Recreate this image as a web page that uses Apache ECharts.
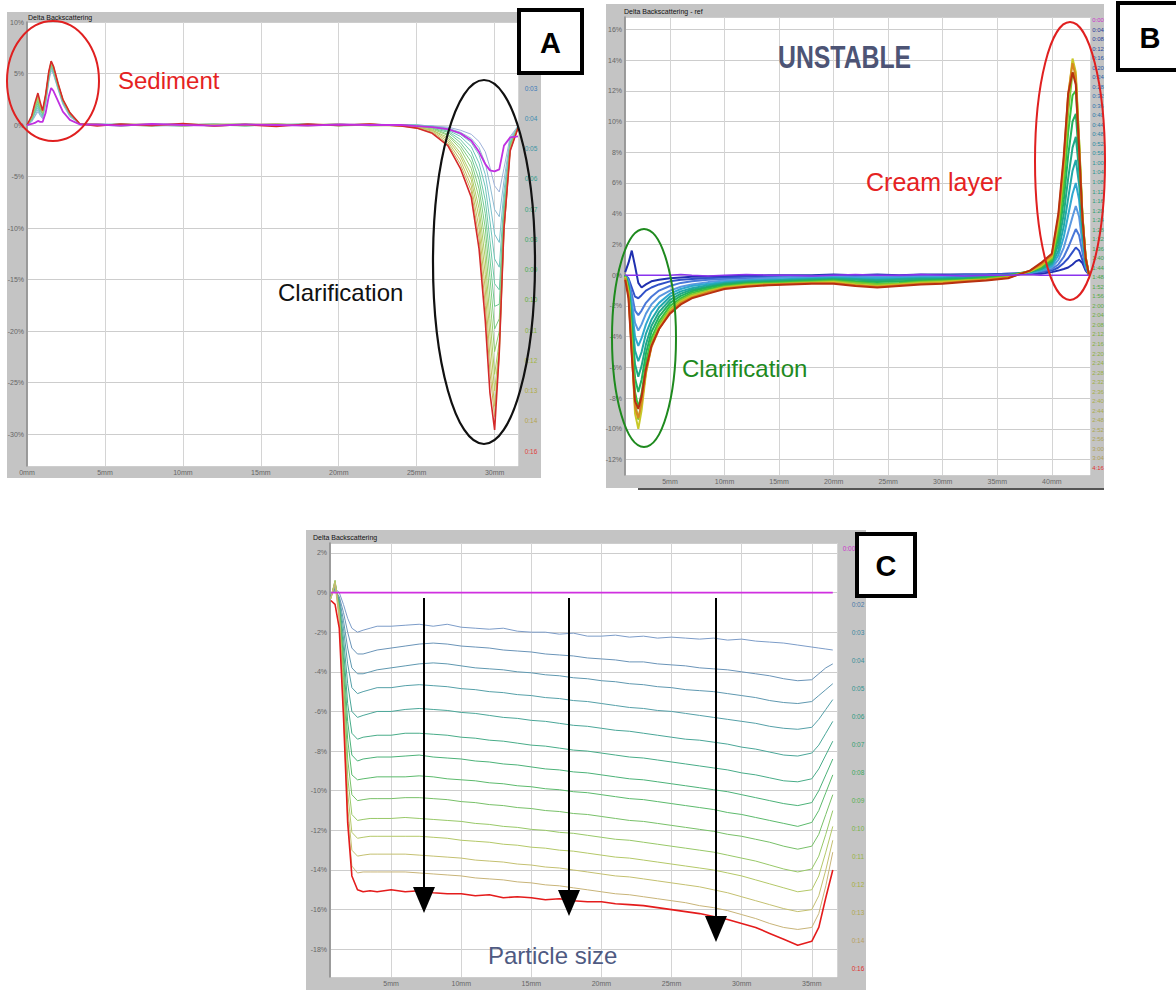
<!DOCTYPE html>
<html>
<head>
<meta charset="utf-8">
<title>Delta Backscattering</title>
<script src="https://cdn.jsdelivr.net/npm/echarts@6/dist/echarts.min.js"></script>
<style>
  html, body { margin: 0; padding: 0; background: #ffffff; }
  #wrap { position: relative; width: 1176px; height: 996px; overflow: hidden; }
  .frame { position: absolute; background: #c4c4c4; }
  #chart { position: absolute; left: 0; top: 0; width: 1176px; height: 996px; }
</style>
</head>
<body>
<div id="wrap">
  <div class="frame" style="left:7px;top:12px;width:534px;height:466px"></div>
  <div class="frame" style="left:606px;top:4px;width:498px;height:484px"></div>
  <div class="frame" style="left:306px;top:530px;width:560px;height:460px"></div>
  <div style="position:absolute;left:638px;top:488px;width:466px;height:2px;background:#555"></div>
  <div id="chart"></div>
</div>
<script>
// ---------- Panel A : sediment + clarification (height in mm, delta BS in %) ----------
const A_x = [0,0.3,0.5,0.7,0.85,1.0,1.2,1.4,1.55,1.7,2.0,2.3,2.75,3.4,4.5,6,8,10,12,14,16,18,20,22,24,25,26,27,27.8,28.5,29.0,29.4,29.7,30.0,30.3,30.6,31.0,31.5];
const A_t00 = [0,0.1,0.2,0.4,0.3,0.3,1.2,2.8,3.6,3.3,2.3,1.3,0.5,0.05, 0.05,-0.05,0.1,0,-0.05,0.05,0,-0.05,0.05,0, 0,-0.1,-0.2,-0.4,-0.8,-1.5,-2.6,-3.8,-4.4,-4.5,-4.3,-2.0,-1.2,-1.1];
const A_t03 = [0,0.3,0.8,1.3,0.9,0.6,2.0,4.2,5.3,4.9,3.4,2.0,0.8,0.1, 0.1,0,-0.1,0.05,0.1,-0.05,0,0.1,-0.05,0.05, 0,0,-0.1,-0.2,-0.5,-0.9,-1.6,-2.6,-4.1,-5.9,-6.5,-4.2,-1.1,-0.1];
const A_t04 = [0,0.4,0.9,1.5,1.0,0.7,2.2,4.4,5.5,5.0,3.5,2.1,0.9,0.1, 0.05,0.1,-0.05,-0.1,0.05,0,0.1,-0.05,0,0.1, 0,0,-0.1,-0.3,-0.7,-1.3,-2.2,-3.7,-5.8,-8.2,-8.9,-5.4,-1.3,-0.1];
const A_t05 = [0,0.4,1.1,1.7,1.1,0.8,2.3,4.5,5.6,5.1,3.6,2.2,0.9,0.1, 0,-0.1,0.05,0.1,-0.05,0.1,-0.05,0,0.1,-0.05, 0,0,-0.1,-0.4,-0.9,-1.7,-2.9,-4.8,-7.5,-10.6,-11.4,-6.4,-1.5,-0.2];
const A_t06 = [0,0.5,1.2,1.9,1.2,0.9,2.4,4.6,5.7,5.2,3.6,2.2,1.0,0.1, 0.1,0.05,-0.1,0,0.1,-0.1,0.05,0.1,-0.05,0, 0,0,-0.2,-0.5,-1.1,-2.1,-3.7,-6.0,-9.3,-13.0,-13.8,-7.3,-1.7,-0.2];
const A_t07 = [0,0.5,1.3,2.1,1.4,1.0,2.5,4.7,5.8,5.3,3.7,2.3,1.0,0.1, -0.05,0.1,0,-0.1,0.05,0.1,-0.1,0.05,0,0.05, 0,-0.1,-0.2,-0.6,-1.4,-2.6,-4.5,-7.3,-11.2,-15.4,-16.0,-8.0,-1.8,-0.2];
const A_t08 = [0,0.6,1.5,2.3,1.5,1.1,2.6,4.8,5.9,5.4,3.7,2.3,1.0,0.1, 0.05,-0.05,0.1,0.05,-0.1,0,0.1,-0.05,0.05,-0.05, 0,-0.1,-0.3,-0.7,-1.7,-3.1,-5.3,-8.6,-13.0,-17.6,-17.4,-8.5,-1.9,-0.2];
const A_t09 = [0,0.6,1.6,2.4,1.6,1.1,2.7,4.9,5.9,5.4,3.8,2.4,1.1,0.1, 0,0.1,-0.05,0.1,0,-0.1,0.05,0.1,-0.1,0, 0,-0.1,-0.3,-0.9,-2.0,-3.6,-6.2,-10.0,-14.8,-19.8,-18.8,-9.0,-2.0,-0.2];
const A_t10 = [0,0.7,1.7,2.6,1.7,1.2,2.8,5.0,6.0,5.5,3.8,2.4,1.1,0.1, 0.1,-0.1,0.05,0,0.1,0.05,-0.05,0,0.1,-0.1, 0,-0.1,-0.4,-1.0,-2.3,-4.2,-7.1,-11.5,-16.8,-22.0,-20.0,-9.3,-2.1,-0.2];
const A_t11 = [0,0.7,1.8,2.7,1.8,1.2,2.8,5.0,6.0,5.5,3.9,2.4,1.1,0.1, -0.05,0.05,0.1,-0.05,0,0.1,0.05,-0.1,0.05,0.1, -0.1,-0.2,-0.5,-1.2,-2.7,-4.8,-8.1,-13.0,-18.8,-24.2,-21.0,-9.7,-2.2,-0.3];
const A_t12 = [0,0.8,1.9,2.8,1.9,1.3,2.9,5.1,6.1,5.6,3.9,2.5,1.1,0.1, 0.05,0,-0.1,0.1,0.05,-0.05,0.1,0,-0.05,0.05, -0.1,-0.2,-0.5,-1.4,-3.0,-5.3,-9.0,-14.5,-20.5,-25.8,-21.5,-10.0,-2.3,-0.3];
const A_t13 = [0,0.8,2.0,2.9,2.0,1.3,2.9,5.1,6.1,5.6,3.9,2.5,1.2,0.1, 0,0.05,0.1,-0.1,0.05,0.1,-0.05,0.05,0.1,-0.05, -0.1,-0.2,-0.6,-1.6,-3.4,-5.9,-10.0,-16.0,-22.5,-27.3,-22.0,-10.3,-2.4,-0.3];
const A_t14 = [0,0.8,2.0,3.0,2.1,1.4,3.0,5.2,6.2,5.7,4.0,2.5,1.2,0.1, 0.1,-0.05,0,0.05,-0.1,0.05,0.1,-0.05,0,0.1, -0.1,-0.3,-0.7,-1.8,-3.8,-6.4,-11.0,-17.5,-24.0,-28.3,-22.5,-10.5,-2.5,-0.3];
const A_t16 = [0,0.9,2.1,3.1,2.2,1.4,3.0,5.2,6.2,5.7,4.0,2.5,1.2,0.1, -0.1,0.1,-0.05,0.15,-0.1,0.05,-0.15,0.1,-0.05,0.1, -0.1,-0.3,-0.8,-2.0,-4.2,-7.0,-12.0,-19.0,-26.0,-29.6,-22.0,-10.0,-2.5,-0.3];
const A_times = ['0:03','0:04','0:05','0:06','0:07','0:08','0:09','0:10','0:11','0:12','0:13','0:14','0:16'];

// ---------- Panel B : unstable sample, reference scan ----------
const B_x = [0.9,1.2,1.5,1.8,2.1,2.4,2.8,3.3,4, 5,6,7,8.5,10,12,14,16,18,20,22,24,26,28,30,32,34,36,38, 39,40,40.6,41.1,41.5,41.9,42.2,42.5,42.8,43.1,43.4];
const B_t00 = [0,0,0,0,0,0,0,0,0, 0,0.05,0,-0.05,0,0.05,0,0,-0.05,0,0.05,0,0,0.05,0,-0.05,0,0,0.05, 0,0,0,0,0,0,0,0,0,0,0];
const B_t01 = [0.2,0.8,1.6,0.6,-0.5,-0.8,-0.6,-0.4,-0.3, -0.2,-0.15,-0.1,-0.1,-0.05,-0.05,0,0,0,0.05,0,0.05,0,0.05,0.05,0.05,0.05,0.1,0.1, 0.1,0.2,0.3,0.4,0.5,0.7,0.9,1.0,0.8,0.3,0.05];
const B_t02 = [0,-0.2,-0.8,-1.4,-1.5,-1.3,-1.0,-0.8,-0.6, -0.4,-0.3,-0.25,-0.2,-0.15,-0.1,-0.1,-0.05,-0.05,0,-0.05,0,-0.05,0,0,0.05,0.05,0.1,0.15, 0.2,0.3,0.5,0.8,1.1,1.5,1.8,1.6,1.0,0.4,0.05];
const B_t03 = [0,-0.3,-1.2,-2.3,-2.6,-2.3,-1.8,-1.4,-1.0, -0.7,-0.5,-0.4,-0.3,-0.25,-0.2,-0.15,-0.1,-0.1,-0.05,-0.1,-0.05,-0.1,-0.05,-0.05,0,0,0.05,0.15, 0.25,0.4,0.7,1.2,1.8,2.5,3.0,2.6,1.5,0.5,0.05];
const B_t04 = [0,-0.4,-1.7,-3.1,-3.6,-3.2,-2.5,-1.9,-1.4, -1.0,-0.75,-0.6,-0.45,-0.35,-0.3,-0.2,-0.15,-0.15,-0.1,-0.15,-0.1,-0.15,-0.1,-0.1,-0.05,-0.05,0,0.15, 0.3,0.5,1.0,1.8,2.8,3.8,4.5,3.8,2.1,0.6,0.05];
const B_t05 = [0,-0.5,-2.1,-4.0,-4.6,-4.1,-3.2,-2.4,-1.8, -1.2,-0.9,-0.7,-0.55,-0.45,-0.35,-0.3,-0.25,-0.2,-0.15,-0.2,-0.2,-0.2,-0.15,-0.15,-0.1,-0.1,0,0.15, 0.3,0.6,1.3,2.5,3.9,5.3,6.0,4.9,2.6,0.7,0.05];
const B_t06 = [0,-0.6,-2.6,-4.9,-5.6,-5.0,-3.8,-2.9,-2.1, -1.4,-1.05,-0.85,-0.65,-0.5,-0.4,-0.35,-0.3,-0.25,-0.2,-0.25,-0.3,-0.25,-0.2,-0.2,-0.15,-0.1,0,0.2, 0.4,0.7,1.6,3.2,5.0,6.8,7.5,5.9,3.0,0.8,0.05];
const B_t07 = [0,-0.7,-3.1,-5.8,-6.6,-5.9,-4.5,-3.3,-2.4, -1.6,-1.2,-0.95,-0.75,-0.55,-0.45,-0.4,-0.35,-0.3,-0.25,-0.3,-0.35,-0.3,-0.25,-0.25,-0.2,-0.1,0,0.2, 0.4,0.8,2.0,4.0,6.3,8.3,9.0,6.8,3.3,0.9,0.05];
const B_t08 = [0,-0.8,-3.6,-6.7,-7.6,-6.8,-5.1,-3.7,-2.7, -1.8,-1.35,-1.05,-0.8,-0.6,-0.5,-0.45,-0.4,-0.35,-0.3,-0.4,-0.45,-0.4,-0.35,-0.3,-0.25,-0.15,0,0.25, 0.5,0.9,2.4,4.9,7.8,10.0,10.5,7.6,3.6,1.0,0.05];
const B_t09 = [0,-0.9,-4.0,-7.6,-8.6,-7.7,-5.7,-4.1,-3.0, -2.0,-1.5,-1.15,-0.9,-0.7,-0.55,-0.5,-0.45,-0.4,-0.35,-0.45,-0.55,-0.5,-0.4,-0.35,-0.3,-0.2,-0.05,0.25, 0.5,1.0,2.8,5.8,9.3,11.7,12.0,8.4,3.9,1.1,0.05];
const B_t10 = [-0.1,-1.0,-4.4,-8.3,-9.4,-8.4,-6.2,-4.4,-3.2, -2.2,-1.6,-1.25,-1.0,-0.75,-0.6,-0.55,-0.5,-0.45,-0.4,-0.5,-0.6,-0.55,-0.45,-0.4,-0.35,-0.25,-0.1,0.25, 0.6,1.1,3.2,6.6,10.6,13.2,12.8,8.8,4.0,1.2,0.05];
const B_t11 = [-0.1,-1.1,-4.8,-9.0,-10.0,-8.8,-6.4,-4.6,-3.4, -2.3,-1.7,-1.35,-1.05,-0.8,-0.65,-0.6,-0.55,-0.5,-0.45,-0.6,-0.7,-0.6,-0.5,-0.45,-0.35,-0.3,-0.15,0.25, 0.6,1.2,3.5,7.2,11.5,14.1,13.2,8.8,4.0,1.2,0.05];
const B_t12 = [-0.2,-1.3,-5.0,-8.6,-9.3,-8.3,-6.3,-4.7,-3.5, -2.4,-1.8,-1.45,-1.1,-0.85,-0.7,-0.6,-0.55,-0.5,-0.5,-0.65,-0.75,-0.65,-0.55,-0.5,-0.4,-0.3,-0.15,0.3, 0.7,1.3,3.8,7.5,11.8,13.8,12.9,8.5,3.9,1.2,0.05];
const B_t13 = [-0.3,-1.5,-5.2,-8.2,-8.7,-7.9,-6.1,-4.6,-3.5, -2.5,-1.9,-1.5,-1.2,-0.9,-0.75,-0.65,-0.6,-0.55,-0.55,-0.7,-0.8,-0.7,-0.6,-0.55,-0.45,-0.35,-0.2,0.3, 0.8,1.4,4.0,7.8,11.8,13.2,12.4,8.2,3.8,1.1,0.05];
const B_times = ['0:00','0:04','0:08','0:12','0:16','0:20','0:24','0:28','0:32','0:36','0:40','0:44','0:48','0:52','0:56','1:00',
  '1:04','1:08','1:12','1:16','1:20','1:24','1:28','1:32','1:36','1:40','1:44','1:48','1:52','1:56','2:00','2:04',
  '2:08','2:12','2:16','2:20','2:24','2:28','2:32','2:36','2:40','2:44','2:48','2:52','2:56','3:00','3:04','4:16'];

// ---------- Panel C : particle size change ----------
const C_x = [0.7,1.0,1.3,1.6,1.9,2.2,2.6,3.0,3.5,4, 5,6,7,8,9,10,11,12,13,14,15,16,17,18,19,20,21,22,23,24,25,26,27,28,29,30,31,32,33,34, 35,35.5,36,36.5];
const C_t00 = [0,0,0,0,0,0,0,0,0,0, 0,0,0,0,0,0,0,0,0,0,0,0,0,0,0,0,0,0,0,0,0,0,0,0,0,0,0,0,0,0, 0,0,0,0];
const C_t02 = [-0.1,0.2,0.0,-0.6,-1.3,-1.8,-2.0,-1.9,-1.8,-1.7, -1.7,-1.65,-1.6,-1.7,-1.6,-1.75,-1.8,-1.85,-1.8,-1.95,-2.0,-2.0,-2.1,-2.05,-2.2,-2.2,-2.15,-2.25,-2.2,-2.3,-2.25,-2.3,-2.35,-2.3,-2.4,-2.35,-2.45,-2.5,-2.55,-2.65, -2.75,-2.8,-2.85,-2.9];
const C_t03 = [-0.1,0.1,-0.2,-1.0,-2.0,-2.8,-3.1,-3.1,-3.0,-2.9, -2.8,-2.7,-2.6,-2.55,-2.6,-2.7,-2.75,-2.8,-2.9,-2.95,-3.0,-3.1,-3.15,-3.2,-3.3,-3.35,-3.4,-3.5,-3.5,-3.6,-3.65,-3.7,-3.8,-3.85,-3.9,-4.0,-4.1,-4.2,-4.35,-4.45, -4.4,-4.1,-3.8,-3.6];
const C_t04 = [-0.1,0.1,-0.3,-1.4,-2.8,-3.8,-4.1,-4.1,-4.0,-3.9, -3.8,-3.7,-3.6,-3.55,-3.6,-3.7,-3.8,-3.85,-3.9,-4.0,-4.05,-4.15,-4.2,-4.3,-4.35,-4.45,-4.5,-4.6,-4.65,-4.75,-4.8,-4.9,-4.95,-5.0,-5.1,-5.2,-5.3,-5.45,-5.55,-5.6, -5.5,-5.2,-4.9,-4.6];
const C_t05 = [-0.2,0.2,-0.4,-1.8,-3.6,-4.8,-5.1,-5.0,-4.9,-4.8, -4.8,-4.7,-4.65,-4.7,-4.75,-4.85,-4.9,-5.0,-5.05,-5.15,-5.2,-5.3,-5.35,-5.45,-5.5,-5.6,-5.7,-5.8,-5.85,-5.95,-6.0,-6.1,-6.2,-6.3,-6.4,-6.5,-6.6,-6.75,-6.85,-6.9, -6.8,-6.4,-5.9,-5.4];
const C_t06 = [-0.2,0.3,-0.5,-2.3,-4.6,-6.0,-6.3,-6.2,-6.1,-6.0, -6.0,-5.9,-5.85,-5.9,-5.95,-6.05,-6.1,-6.2,-6.3,-6.35,-6.45,-6.5,-6.6,-6.7,-6.75,-6.85,-6.95,-7.0,-7.1,-7.2,-7.3,-7.4,-7.45,-7.55,-7.65,-7.8,-7.9,-8.05,-8.2,-8.25, -8.1,-7.7,-7.1,-6.5];
const C_t07 = [-0.2,0.4,-0.6,-2.8,-5.6,-7.1,-7.4,-7.3,-7.25,-7.2, -7.2,-7.1,-7.1,-7.15,-7.2,-7.3,-7.35,-7.45,-7.5,-7.6,-7.7,-7.75,-7.85,-7.95,-8.0,-8.1,-8.2,-8.3,-8.35,-8.45,-8.55,-8.65,-8.75,-8.85,-8.95,-9.1,-9.2,-9.35,-9.5,-9.55, -9.4,-8.9,-8.2,-7.5];
const C_t08 = [-0.2,0.5,-0.7,-3.3,-6.5,-8.2,-8.5,-8.4,-8.35,-8.3, -8.3,-8.25,-8.2,-8.3,-8.35,-8.4,-8.5,-8.55,-8.65,-8.7,-8.8,-8.9,-8.95,-9.05,-9.1,-9.2,-9.3,-9.4,-9.45,-9.55,-9.65,-9.75,-9.85,-9.95,-10.05,-10.2,-10.35,-10.5,-10.65,-10.75, -10.6,-10.0,-9.2,-8.4];
const C_t09 = [-0.3,0.5,-0.8,-3.8,-7.4,-9.2,-9.45,-9.4,-9.35,-9.3, -9.3,-9.3,-9.25,-9.3,-9.4,-9.45,-9.5,-9.6,-9.65,-9.75,-9.8,-9.9,-9.95,-10.05,-10.1,-10.2,-10.3,-10.4,-10.45,-10.55,-10.65,-10.75,-10.85,-10.95,-11.1,-11.2,-11.35,-11.5,-11.65,-11.8, -11.6,-11.0,-10.1,-9.2];
const C_t10 = [-0.3,0.6,-0.9,-4.3,-8.4,-10.2,-10.5,-10.45,-10.4,-10.4, -10.4,-10.35,-10.35,-10.4,-10.45,-10.55,-10.6,-10.7,-10.75,-10.85,-10.9,-11.0,-11.05,-11.15,-11.2,-11.3,-11.4,-11.5,-11.55,-11.65,-11.75,-11.85,-11.95,-12.05,-12.2,-12.3,-12.45,-12.6,-12.8,-12.95, -12.8,-12.2,-11.2,-10.2];
const C_t11 = [-0.3,0.6,-1.0,-4.8,-9.3,-11.2,-11.5,-11.45,-11.4,-11.4, -11.4,-11.35,-11.4,-11.45,-11.5,-11.55,-11.65,-11.7,-11.8,-11.85,-11.95,-12.0,-12.1,-12.15,-12.25,-12.35,-12.45,-12.5,-12.6,-12.7,-12.8,-12.9,-13.0,-13.1,-13.25,-13.4,-13.55,-13.75,-13.95,-14.1, -13.95,-13.3,-12.2,-11.0];
const C_t12 = [-0.3,0.6,-1.1,-5.2,-10.1,-12.1,-12.4,-12.35,-12.3,-12.3, -12.3,-12.3,-12.3,-12.35,-12.4,-12.5,-12.55,-12.6,-12.7,-12.75,-12.85,-12.9,-13.0,-13.05,-13.15,-13.25,-13.35,-13.4,-13.5,-13.6,-13.7,-13.8,-13.9,-14.0,-14.15,-14.3,-14.5,-14.7,-14.9,-15.1, -15.0,-14.3,-13.1,-11.8];
const C_t13 = [-0.3,0.5,-1.2,-5.6,-10.8,-13.0,-13.3,-13.25,-13.2,-13.2, -13.2,-13.2,-13.25,-13.3,-13.35,-13.4,-13.5,-13.55,-13.6,-13.7,-13.75,-13.85,-13.9,-14.0,-14.1,-14.2,-14.3,-14.35,-14.45,-14.55,-14.65,-14.75,-14.85,-15.0,-15.15,-15.35,-15.55,-15.75,-15.95,-16.1, -16.0,-15.3,-14.0,-12.5];
const C_t14 = [-0.3,0.4,-1.4,-6.0,-11.4,-13.8,-14.15,-14.1,-14.1,-14.1, -14.1,-14.1,-14.15,-14.2,-14.25,-14.3,-14.4,-14.45,-14.5,-14.6,-14.65,-14.75,-14.8,-14.9,-15.0,-15.1,-15.2,-15.25,-15.35,-15.45,-15.55,-15.65,-15.8,-15.9,-16.05,-16.25,-16.45,-16.7,-16.9,-17.0, -16.9,-16.2,-14.8,-13.1];
const C_t16 = [-0.4,-0.6,-1.8,-6.2,-11.6,-14.3,-15.0,-15.1,-15.05,-15.1, -15.0,-15.1,-15.05,-15.15,-15.2,-15.2,-15.3,-15.25,-15.4,-15.35,-15.4,-15.5,-15.45,-15.55,-15.6,-15.6,-15.7,-15.75,-15.8,-15.9,-16.0,-16.1,-16.2,-16.35,-16.5,-16.7,-16.9,-17.2,-17.5,-17.8, -17.6,-16.9,-15.4,-14.0];
const C_times = ['0:02','0:03','0:04','0:05','0:06','0:07','0:08','0:09','0:10','0:11','0:12','0:13','0:14','0:16'];

// ---------- styling ----------
const FONT = '"Liberation Sans", Arial, sans-serif';
const A_curves = [A_t03, A_t04, A_t05, A_t06, A_t07, A_t08, A_t09, A_t10, A_t11, A_t12, A_t13, A_t14, A_t16];
const A_lineColors = ['#9fb2da','#8cbad2','#78c0ca','#6ec4b8','#6cc8a6','#70c890','#7ccc7e','#92cc6e','#aacc66','#bac860','#c2c05e','#c8b058','#d42a2a'];
const A_textColors = ['#3f7cb8','#3d8cb0','#3a96a4','#35a090','#34a47c','#3aa864','#48ac50','#62b040','#86b43c','#a2b43c','#b0ac44','#b4a450','#e04040'];

const B_curves = [B_t01, B_t02, B_t03, B_t04, B_t05, B_t06, B_t07, B_t08, B_t09, B_t10, B_t11, B_t12, B_t13];
const B_lineColors = ['#2030b0','#3050c8','#4a78d8','#5a98e0','#30a8d0','#20a8a8','#20a888','#20b060','#38c040','#80c830','#c8c828','#d88820','#b83010'];

const C_curves = [C_t02, C_t03, C_t04, C_t05, C_t06, C_t07, C_t08, C_t09, C_t10, C_t11, C_t12, C_t13, C_t14, C_t16];
const C_lineColors = ['#7c9cc8','#6a94b8','#5f98b0','#55a0a8','#4aa698','#48ac88','#4cb278','#5cba6c','#78c068','#98c868','#b4c868','#c4c070','#c8b478','#e41c1c'];
const C_textColors = ['#4a78a8','#3f88a0','#3a8e98','#339490','#2e9a80','#34a070','#3ca860','#56b050','#78b448','#98b440','#a8b040','#b0a850','#b8a060','#e03030'];

function pts(xs, ys) { return xs.map((x, i) => [x, ys[i]]); }

function hexToRgb(h) { return [parseInt(h.slice(1,3),16), parseInt(h.slice(3,5),16), parseInt(h.slice(5,7),16)]; }
function paletteAt(stops, t) {
  const p = t * (stops.length - 1), i = Math.min(Math.floor(p), stops.length - 2), f = p - i;
  const a = hexToRgb(stops[i]), b = hexToRgb(stops[i + 1]);
  return 'rgb(' + a.map((v, k) => Math.round(v + (b[k] - v) * f)).join(',') + ')';
}
const B_labelStops = ['#2a3a9a','#2a6ab0','#2a90a0','#30a070','#40a848','#80b040','#a8b048','#b0a058'];

function xAxisDef(gi, min, max, split, showMin) {
  return {
    type: 'value', gridIndex: gi, min: min, max: max, splitNumber: split,
    axisLine: { show: false }, axisTick: { show: false },
    axisLabel: { formatter: '{value}mm', fontSize: 7, color: '#666', margin: 3, fontFamily: FONT,
                 showMinLabel: showMin, showMaxLabel: false },
    splitLine: { show: true, lineStyle: { color: '#d4d4d4', width: 1 } }
  };
}
function yAxisDef(gi, min, max, split, showMax) {
  return {
    type: 'value', gridIndex: gi, min: min, max: max, splitNumber: split,
    axisLine: { show: true, onZero: false, lineStyle: { color: '#8a8a8a', width: 1.5 } },
    axisTick: { show: false },
    axisLabel: { formatter: '{value}%', fontSize: 7, color: '#666', margin: 3, fontFamily: FONT,
                 showMinLabel: false, showMaxLabel: showMax },
    splitLine: { show: true, lineStyle: { color: '#cdcdcd', width: 1 } }
  };
}
function lineSeries(axis, xs, ys, color, width) {
  return { type: 'line', xAxisIndex: axis, yAxisIndex: axis, data: pts(xs, ys), symbol: 'none',
           silent: true, animation: false, lineStyle: { color: color, width: width } };
}

const series = [];
// panel A
A_curves.forEach((ys, i) => series.push(lineSeries(0, A_x, ys, A_lineColors[i], i === A_curves.length - 1 ? 1.6 : 1)));
series.push(lineSeries(0, A_x, A_t00, '#c030e0', 1.8));
// panel B
B_curves.forEach((ys, i) => series.push(lineSeries(1, B_x, ys, B_lineColors[i], 2)));
series.push(lineSeries(1, B_x, B_t00, '#8a33ee', 1.6));
// panel C
C_curves.forEach((ys, i) => series.push(lineSeries(2, C_x, ys, C_lineColors[i], i === C_curves.length - 1 ? 1.6 : 1)));
series.push(lineSeries(2, C_x, C_t00, '#d030e0', 1.8));

// ---------- annotations, legends, titles ----------
const G = [];
function txt(x, y, s, color, font, align, extra) {
  G.push(Object.assign({ type: 'text', x: x, y: y, z: 100,
    style: { text: s, fill: color, font: font, textAlign: align || 'left', textVerticalAlign: 'middle' } }, extra || {}));
}
function ellipse(cx, cy, rx, ry, color, w) {
  G.push({ type: 'ellipse', z: 100, shape: { cx: cx, cy: cy, rx: rx, ry: ry },
           style: { fill: 'transparent', stroke: color, lineWidth: w } });
}
function box(x, y, w, h, letter) {
  G.push({ type: 'rect', z: 110, shape: { x: x, y: y, width: w, height: h },
           style: { fill: '#ffffff', stroke: '#000000', lineWidth: 4 } });
  G.push({ type: 'text', z: 111, x: x + w / 2, y: y + h / 2 + 1,
           style: { text: letter, fill: '#000', font: 'bold 29px ' + FONT, textAlign: 'center', textVerticalAlign: 'middle' } });
}
function arrow(x, y0, y1) {
  G.push({ type: 'line', z: 100, shape: { x1: x, y1: y0, x2: x, y2: y1 - 20 }, style: { stroke: '#000', lineWidth: 2 } });
  G.push({ type: 'polygon', z: 100, shape: { points: [[x - 11, y1 - 26], [x + 11, y1 - 26], [x, y1]] }, style: { fill: '#000' } });
}

// panel titles
txt(28, 17, 'Delta Backscattering', '#111', '7px ' + FONT);
txt(624, 11, 'Delta Backscattering - ref', '#111', '7px ' + FONT);
txt(313, 537, 'Delta Backscattering', '#111', '7px ' + FONT);

// time legends
A_times.forEach((t, i) => txt(531, 88 + i * 30.25, t, A_textColors[i], '6.5px ' + FONT, 'center'));
B_times.forEach((t, i) => {
  const c = i === 0 ? '#cc33cc' : (i === B_times.length - 1 ? '#e03030' : paletteAt(B_labelStops, (i - 1) / (B_times.length - 3)));
  txt(1098, 20 + i * 9.53, t, c, '6px ' + FONT, 'center');
});
txt(849, 548, '0:00', '#cc33cc', '6.5px ' + FONT, 'center');
C_times.forEach((t, i) => txt(858, 604 + i * 28, t, C_textColors[i], '6.5px ' + FONT, 'center'));

// panel A notes
ellipse(53, 81, 46, 60, '#e02020', 2);
txt(118, 80, 'Sediment', '#e52222', '24px ' + FONT);
ellipse(484, 262, 51, 182, '#111', 2.2);
txt(278, 292, 'Clarification', '#111', '24px ' + FONT);
// panel B notes
txt(778, 58, 'UNSTABLE', '#4d5475', 'bold 31px ' + FONT, 'left', { scaleX: 0.8, originX: 0, originY: 0 });
ellipse(1070, 161, 35, 139, '#e02020', 2);
txt(866, 182, 'Cream layer', '#e52222', '25px ' + FONT);
ellipse(644, 338, 32, 109, '#1e8a1e', 2);
txt(682, 368, 'Clarification', '#1e8a1e', '24px ' + FONT);
// panel C notes
arrow(424, 598, 913);
arrow(569, 598, 916);
arrow(716, 598, 942);
txt(488, 955, 'Particle size', '#4f5a82', '24px ' + FONT);

box(519, 10, 63, 63, 'A');
box(1118, 3, 64, 67, 'B');
box(857, 534, 58, 62, 'C');

const option = {
  animation: false,
  backgroundColor: 'transparent',
  textStyle: { fontFamily: FONT },
  grid: [
    { left: 27, top: 22, width: 491, height: 444, show: true, backgroundColor: '#ffffff', borderWidth: 0 },
    { left: 625, top: 17, width: 465, height: 458, show: true, backgroundColor: '#ffffff', borderWidth: 0 },
    { left: 330, top: 543, width: 507, height: 434, show: true, backgroundColor: '#ffffff', borderWidth: 0 }
  ],
  xAxis: [
    xAxisDef(0, 0, 31.5, 6, true),
    xAxisDef(1, 0.88, 43.5, 9, false),
    xAxisDef(2, 0.64, 36.8, 7, false)
  ],
  yAxis: [
    yAxisDef(0, -33.1, 10, 9, true),
    yAxisDef(1, -13, 16.8, 15, false),
    yAxisDef(2, -19.4, 2.5, 11, false)
  ],
  series: series,
  graphic: { elements: G }
};

const chart = echarts.init(document.getElementById('chart'), null, { renderer: 'svg', width: 1176, height: 996 });
chart.setOption(option);
</script>
</body>
</html>
